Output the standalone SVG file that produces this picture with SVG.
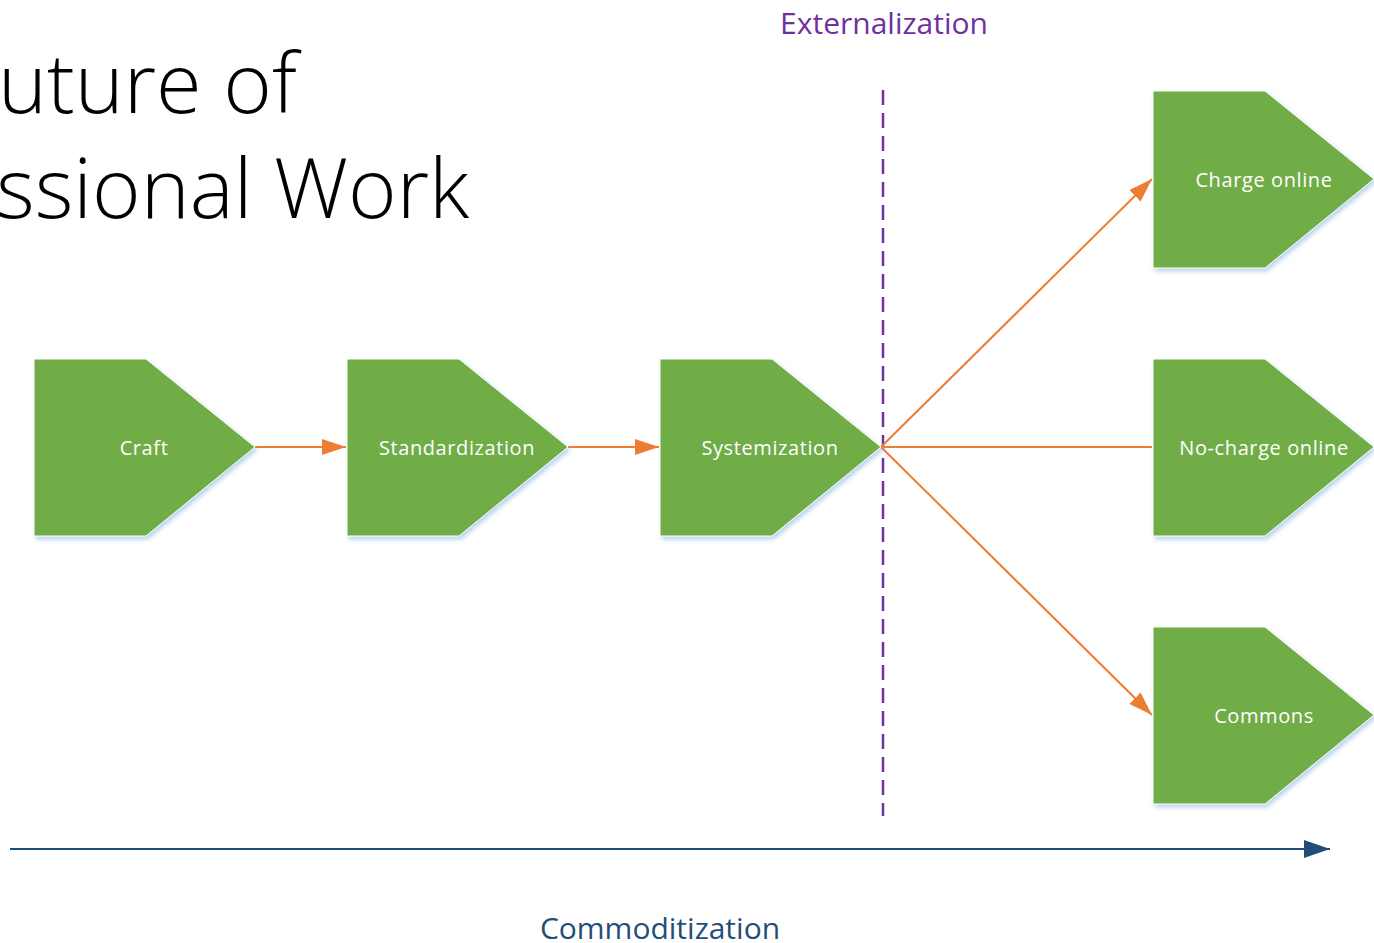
<svg xmlns="http://www.w3.org/2000/svg" width="1374" height="943" viewBox="0 0 1374 943">
<defs>
<style>
.node{fill:#70AD47;stroke:#ffffff;stroke-width:1;filter:url(#sh)}
.nl{fill:#ffffff;font-family:"Open Sans","Liberation Sans",sans-serif;font-size:20px;text-anchor:middle;letter-spacing:0.6px}
.conn{stroke:#ED7D31;stroke-width:2;fill:none}
.title{font-family:"Open Sans","Liberation Sans",sans-serif;font-weight:300;font-size:83px;fill:#000}
</style>
<filter id="sh" x="-10%" y="-10%" width="130%" height="130%">
<feDropShadow dx="2" dy="3" stdDeviation="2" flood-color="#9DC3E6" flood-opacity="0.7"/>
</filter>
<marker id="oa" markerUnits="userSpaceOnUse" markerWidth="24" markerHeight="16" refX="24" refY="8" orient="auto">
<path d="M0,0 L24,8 L0,16 z" fill="#ED7D31"/>
</marker>
<marker id="ba" markerUnits="userSpaceOnUse" markerWidth="26" markerHeight="18" refX="26" refY="9" orient="auto">
<path d="M0,0 L26,9 L0,18 z" fill="#1F4E79"/>
</marker>
</defs>
<rect width="1374" height="943" fill="#ffffff"/>
<g id="title">
<text class="title" x="-2" y="113">uture of</text>
<text class="title" x="-4" y="218">ssional Work</text>
</g>
<g id="labels">
<text x="884" y="34" font-family="Open Sans, Liberation Sans, sans-serif" font-size="30" fill="#7030A0" text-anchor="middle">Externalization</text>
<text x="660" y="939" font-family="Open Sans, Liberation Sans, sans-serif" font-size="30" fill="#1F4E79" text-anchor="middle">Commoditization</text>
</g>
<g id="connectors">
<line x1="883" y1="90" x2="883" y2="816" stroke="#7030A0" stroke-width="2.5" stroke-dasharray="15,8"/>
<line x1="10" y1="849" x2="1330" y2="849" stroke="#1F4E79" stroke-width="2" marker-end="url(#ba)"/>
<line class="conn" x1="255" y1="447" x2="346" y2="447" marker-end="url(#oa)"/>
<line class="conn" x1="568" y1="447" x2="659" y2="447" marker-end="url(#oa)"/>
<line class="conn" x1="881" y1="447" x2="1152" y2="179" marker-end="url(#oa)"/>
<line class="conn" x1="881" y1="447" x2="1152" y2="447"/>
<line class="conn" x1="881" y1="447" x2="1152" y2="715" marker-end="url(#oa)"/>
</g>
<g id="craft">
<polygon class="node" points="34,359 146,359 255,447 146,536 34,536"/>
<text class="nl" x="144" y="455">Craft</text>
</g>
<g id="standardization">
<polygon class="node" points="347,359 459,359 568,447 459,536 347,536"/>
<text class="nl" x="457" y="455">Standardization</text>
</g>
<g id="systemization">
<polygon class="node" points="660,359 772,359 881,447 772,536 660,536"/>
<text class="nl" x="770" y="455">Systemization</text>
</g>
<g id="charge-online">
<polygon class="node" points="1153,91 1265,91 1374,179 1265,268 1153,268"/>
<text class="nl" x="1264" y="187">Charge online</text>
</g>
<g id="no-charge-online">
<polygon class="node" points="1153,359 1265,359 1374,447 1265,536 1153,536"/>
<text class="nl" x="1264" y="455">No-charge online</text>
</g>
<g id="commons">
<polygon class="node" points="1153,627 1265,627 1374,715 1265,804 1153,804"/>
<text class="nl" x="1264" y="723">Commons</text>
</g>
</svg>
